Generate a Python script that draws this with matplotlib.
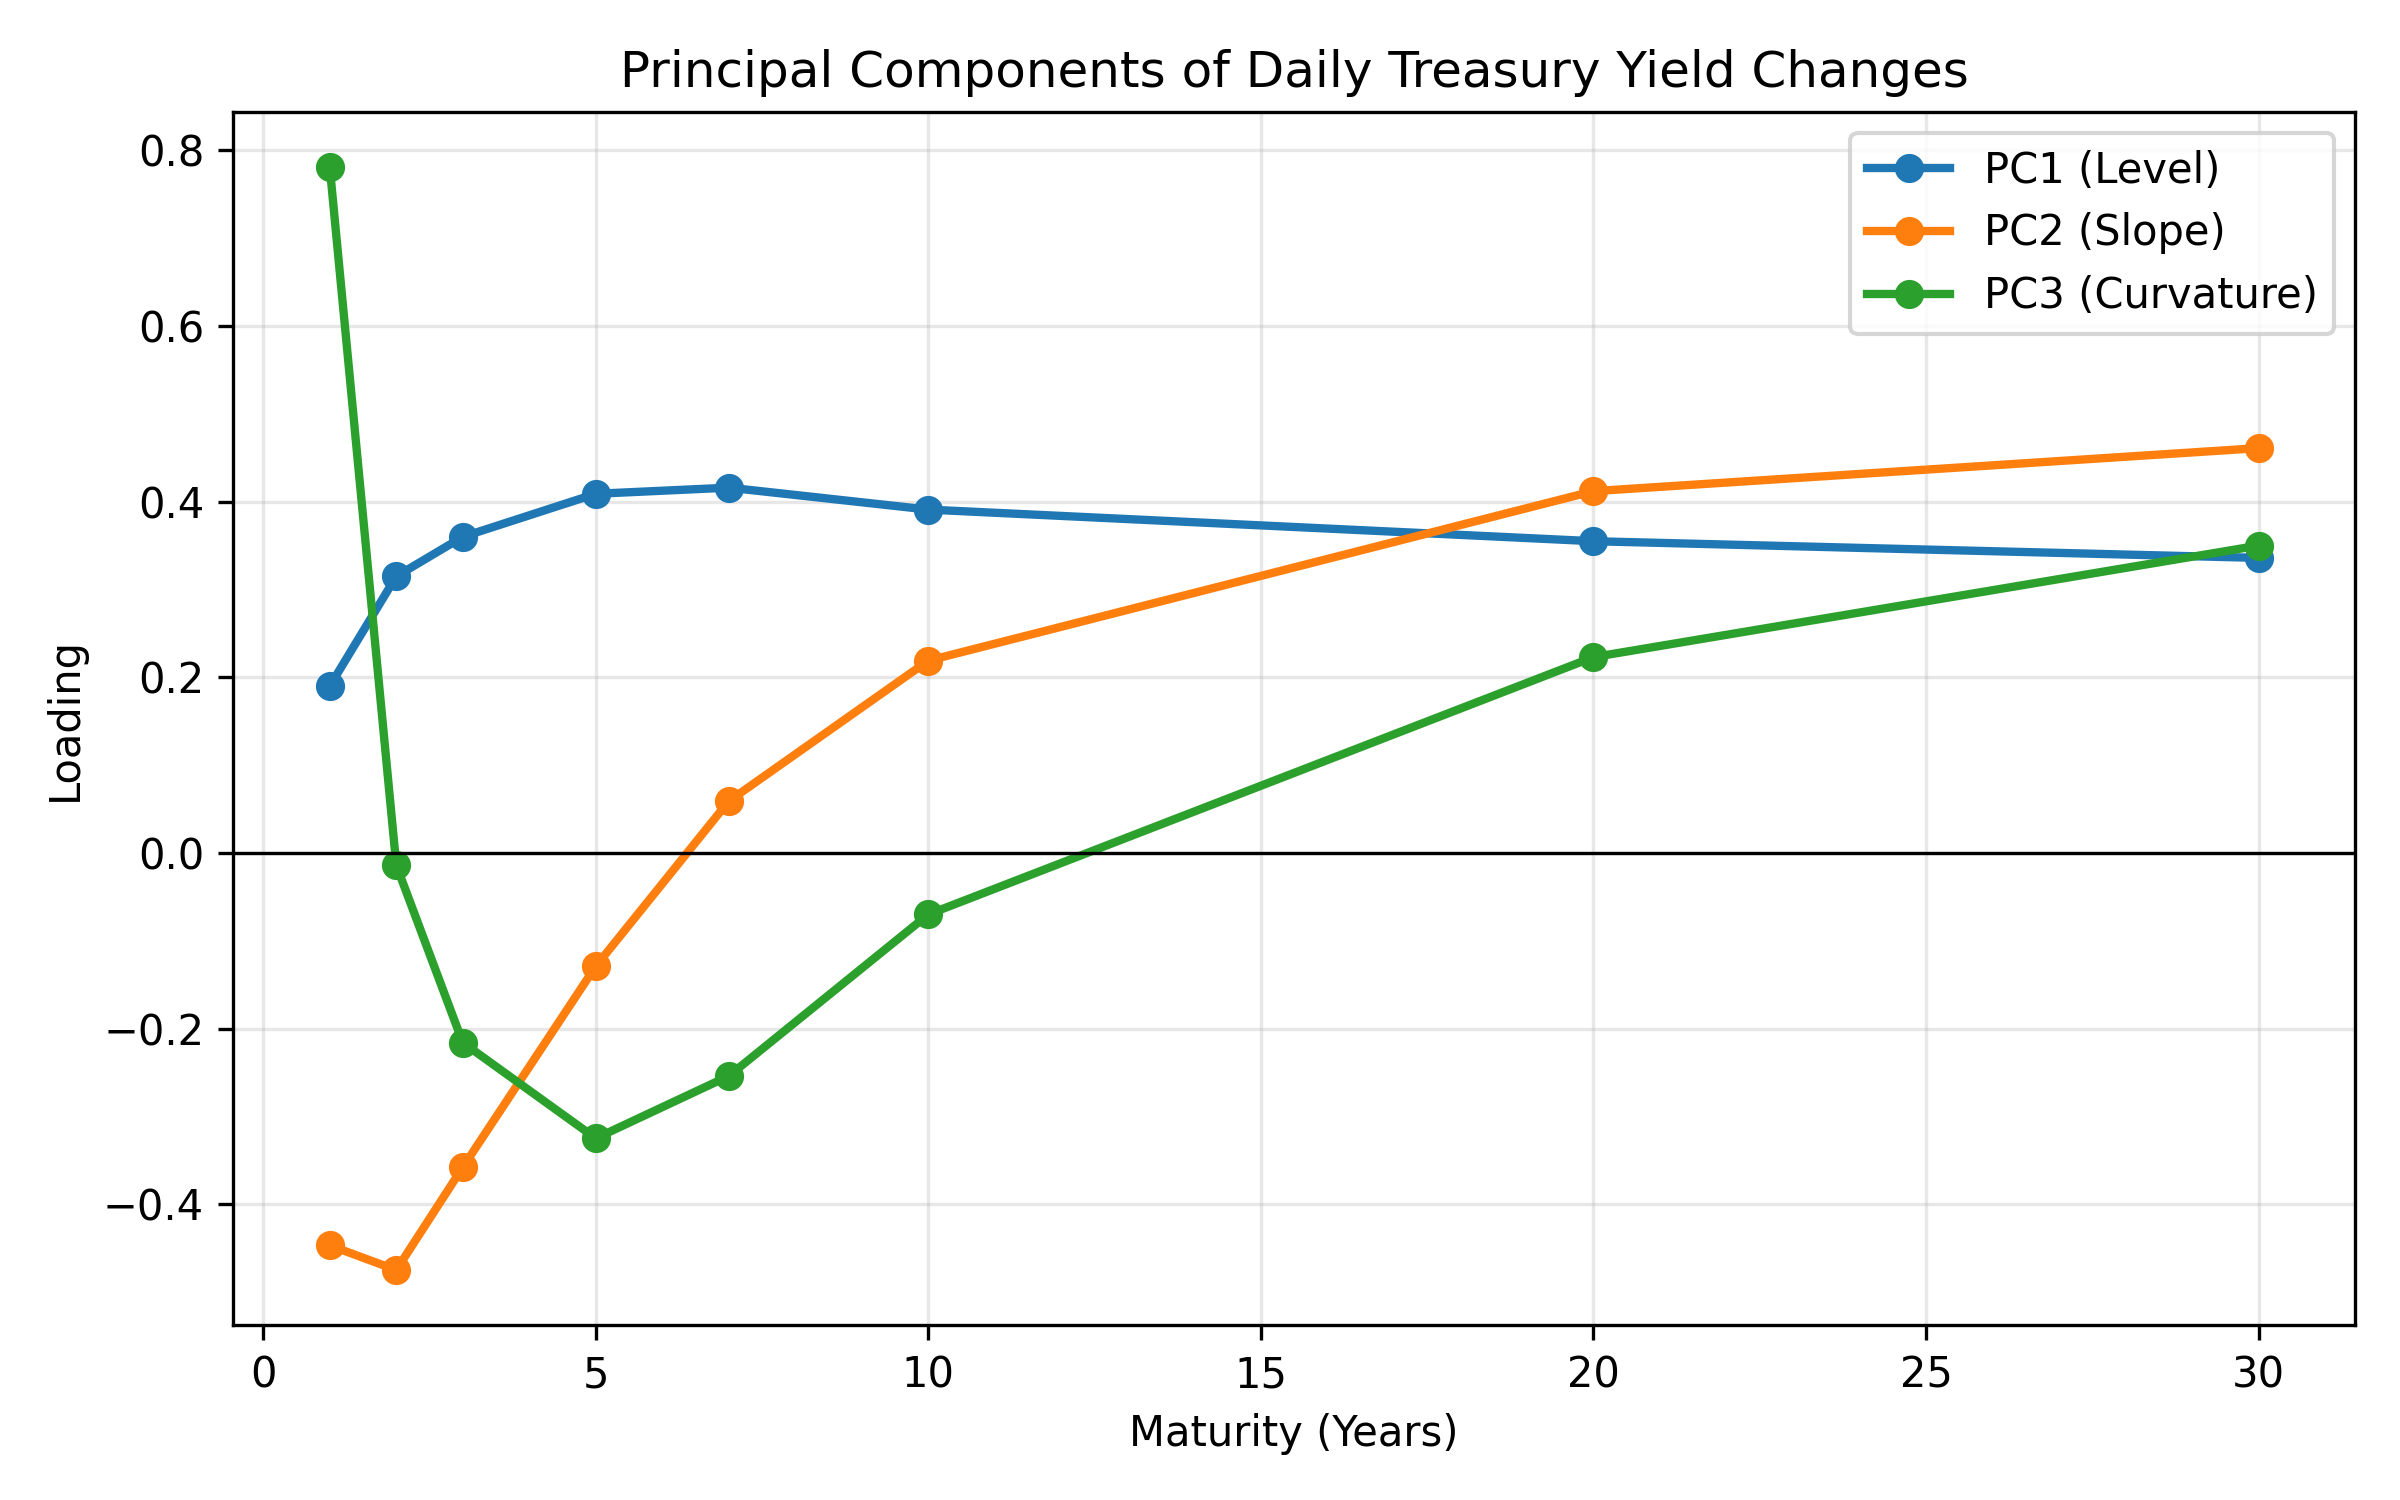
import matplotlib
matplotlib.use("Agg")
import matplotlib.pyplot as plt

# maturities in years
maturities = [1, 2, 3, 5, 7, 10, 20, 30]

# loadings
pc1_level = [0.190, 0.315, 0.360, 0.409, 0.416, 0.391, 0.355, 0.336]
pc2_slope = [-0.447, -0.475, -0.358, -0.129, 0.059, 0.219, 0.412, 0.461]
pc3_curvature = [0.781, -0.014, -0.216, -0.325, -0.254, -0.070, 0.223, 0.350]

series_labels = ["PC1 (Level)", "PC2 (Slope)", "PC3 (Curvature)"]


def plot_components():
    fig, ax = plt.subplots(figsize=(8, 5))

    for values, label in zip([pc1_level, pc2_slope, pc3_curvature], series_labels):
        ax.plot(maturities, values, marker='o', linewidth=2, label=label)

    ax.axhline(0, color='black', linewidth=0.8)
    ax.set_title("Principal Components of Daily Treasury Yield Changes")
    ax.set_xlabel("Maturity (Years)")
    ax.set_ylabel("Loading")
    ax.legend()
    ax.grid(True, alpha=0.3)

    fig.tight_layout()
    fig.savefig("out.png", dpi=300)


if __name__ == "__main__":
    plot_components()
